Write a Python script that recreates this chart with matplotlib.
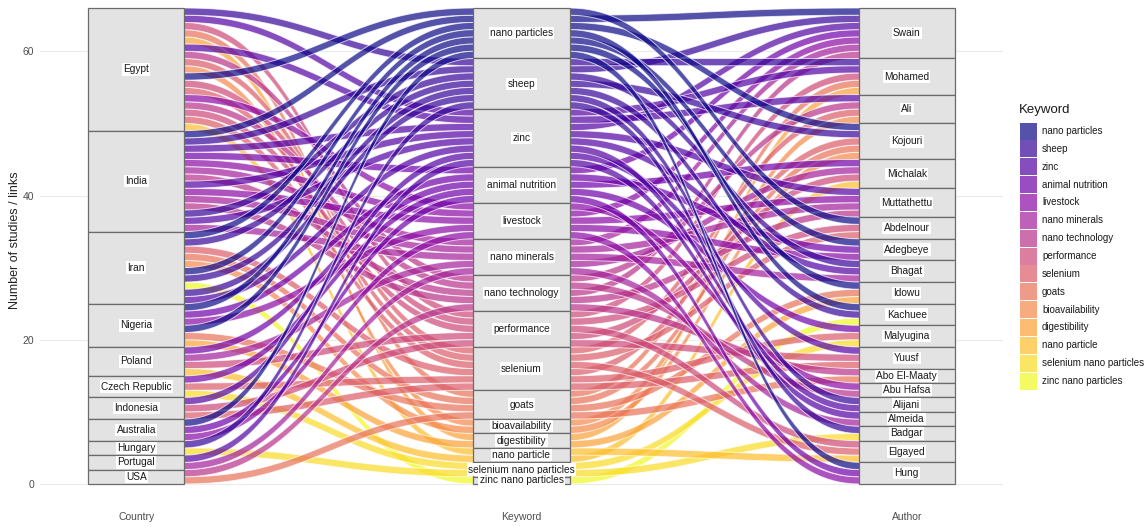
import numpy as np
import matplotlib
matplotlib.use("Agg")
import matplotlib.pyplot as plt
from matplotlib.patches import Rectangle, Polygon

# ---------------- data ----------------
countries = ["Egypt", "India", "Iran", "Nigeria", "Poland", "Czech Republic",
             "Indonesia", "Australia", "Hungary", "Portugal", "USA"]
keywords = ["nano particles", "sheep", "zinc", "animal nutrition", "livestock",
            "nano minerals", "nano technology", "performance", "selenium", "goats",
            "bioavailability", "digestibility", "nano particle",
            "selenium nano particles", "zinc nano particles"]
authors = ["Swain", "Mohamed", "Ali", "Kojouri", "Michalak", "Muttathettu",
           "Abdelnour", "Adegbeye", "Bhagat", "Idowu", "Kachuee", "Malyugina",
           "Yuusf", "Abo El-Maaty", "Abu Hafsa", "Alijani", "Almeida", "Badgar",
           "Elgayed", "Hung"]

author_country = ["India", "Egypt", "Egypt", "Iran", "Poland", "India",
                  "Egypt", "Nigeria", "India", "Nigeria", "Iran", "Czech Republic",
                  "Indonesia", "USA", "Egypt", "Iran", "Portugal", "Hungary",
                  "Egypt", "Australia"]
author_keywords = [
    ["nano particles", "sheep", "zinc", "animal nutrition", "livestock", "nano minerals", "nano technology"],
    ["sheep", "zinc", "goats", "digestibility", "performance"],
    ["zinc", "selenium", "bioavailability", "nano technology"],
    ["selenium", "goats", "bioavailability", "sheep", "nano particles"],
    ["animal nutrition", "nano minerals", "performance", "nano particle"],
    ["livestock", "nano minerals", "nano technology", "zinc"],
    ["performance", "selenium", "nano particles"],
    ["nano particles", "animal nutrition", "livestock"],
    ["zinc", "sheep", "nano minerals"],
    ["goats", "digestibility", "nano particles"],
    ["zinc nano particles", "nano particles", "sheep"],
    ["selenium", "selenium nano particles", "animal nutrition"],
    ["performance", "zinc", "selenium"],
    ["nano technology", "goats"],
    ["livestock", "nano technology"],
    ["sheep", "zinc"],
    ["nano minerals", "zinc"],
    ["selenium nano particles", "sheep"],
    ["nano particle", "performance", "selenium"],
    ["nano particles", "animal nutrition", "livestock"],
]

axis_names = ["Country", "Keyword", "Author"]

# ---------------- build links ----------------
rows = []
for a_i, a in enumerate(authors):
    c_i = countries.index(author_country[a_i])
    for kw in author_keywords[a_i]:
        rows.append((c_i, keywords.index(kw), a_i))
rows = np.array(rows)
N = len(rows)
total = N

strata_lists = [countries, keywords, authors]
order_keys = [(0, 2, 1), (1, 0, 2), (2, 1, 0)]

def stack_positions(axis):
    levels = strata_lists[axis]
    counts = np.array([np.sum(rows[:, axis] == i) for i in range(len(levels))])
    tops = total - np.concatenate([[0], np.cumsum(counts)[:-1]])
    keys = order_keys[axis]
    idx = sorted(range(N), key=lambda r: tuple(rows[r, k] for k in keys))
    ytop = np.zeros(N)
    fill = {}
    for r in idx:
        s = rows[r, axis]
        off = fill.get(s, 0)
        ytop[r] = tops[s] - off
        fill[s] = off + 1
    return counts, tops, ytop

stack = [stack_positions(a) for a in range(3)]

# ---------------- figure ----------------
W, H = 1147, 527
fig = plt.figure(figsize=(W / 100, H / 100), dpi=100)
ax = fig.add_axes([40 / W, (H - 500) / H, (1003 - 40) / W, 500 / H])
ax.set_xlim(0.75, 3.25)
ax.set_ylim(-16 / 7.2, 66 + 8 / 7.2)

for s in ax.spines.values():
    s.set_visible(False)
ax.set_yticks([0, 20, 40, 60])
ax.set_xticks([1, 2, 3])
ax.set_xticklabels(axis_names)
ax.tick_params(length=0, labelsize=7.5, labelcolor="#4d4d4d")
ax.tick_params(axis="x", pad=8.5)
ax.tick_params(axis="y", pad=4)
ax.grid(axis="y", color="#ebebeb", linewidth=0.8)
ax.set_axisbelow(True)
for t in ax.get_xticklabels() + ax.get_yticklabels():
    t.set_fontfamily("Liberation Sans")

fig.text(15 / W, 1 - 240 / H, "Number of studies / links", rotation=90,
         ha="center", va="center", fontsize=9, color="#222222",
         family="Liberation Sans")

cmap = matplotlib.colormaps["plasma"]
kcolors = [cmap(i / (len(keywords) - 1)) for i in range(len(keywords))]
alpha = 0.7
sw = 0.25  # stratum width

# ---------------- flows ----------------
t = np.linspace(0, 1, 60)
def bez(p0, p1, p2, p3):
    return ((1 - t) ** 3) * p0 + 3 * ((1 - t) ** 2) * t * p1 + 3 * (1 - t) * t ** 2 * p2 + t ** 3 * p3

draw_order = sorted(range(N), key=lambda r: -rows[r, 1])
for r in draw_order:
    color = kcolors[rows[r, 1]]
    xs_top, ys_top = [], []
    for a in range(2):
        x0 = 1 + a + sw / 2
        x1 = 2 + a - sw / 2
        dx = x1 - x0
        y0 = stack[a][2][r]
        y1 = stack[a + 1][2][r]
        xx = bez(x0, x0 + 0.45 * dx, x1 - 0.45 * dx, x1)
        yy = bez(y0, y0, y1, y1)
        xs_top.extend([1 + a - sw / 2] + list(xx) + [2 + a + sw / 2])
        ys_top.extend([y0] + list(yy) + [y1])
    xs_top = np.array(xs_top)
    ys_top = np.array(ys_top)
    xs = np.concatenate([xs_top, xs_top[::-1]])
    ys = np.concatenate([ys_top, ys_top[::-1] - 1])
    poly = Polygon(np.column_stack([xs, ys]), closed=True, facecolor=color,
                   alpha=alpha, edgecolor="white", linewidth=0.7, zorder=2)
    ax.add_patch(poly)

# ---------------- strata ----------------
for a in range(3):
    counts, tops, _ = stack[a]
    for s, name in enumerate(strata_lists[a]):
        top = tops[s]
        h = counts[s]
        ax.add_patch(Rectangle((1 + a - sw / 2, top - h), sw, h, facecolor="#e3e3e3",
                               edgecolor="#6b6b6b", linewidth=0.9, zorder=3))
        ax.text(1 + a, top - h / 2, name, ha="center", va="center", fontsize=7.3,
                color="#1a1a1a", family="Liberation Sans", zorder=4,
                bbox=dict(boxstyle="square,pad=0.12", fc="white", ec="none"))

# ---------------- legend (figure coords) ----------------
def fx(px):
    return px / W
def fy(py):
    return 1 - py / H

fig.text(fx(1019), fy(110), "Keyword", ha="left", va="center", fontsize=9.5,
         color="#1a1a1a", family="Liberation Sans")
row_h = 17.86
for i, (kw, c) in enumerate(zip(keywords, kcolors)):
    cy = 131 + i * row_h
    fig.patches.append(Rectangle((fx(1020), fy(cy + 8.5)), 17 / W, 17 / H,
                                 transform=fig.transFigure, facecolor=c,
                                 alpha=alpha, edgecolor="none"))
    fig.text(fx(1042), fy(cy), kw, ha="left", va="center", fontsize=7.0,
             color="#1a1a1a", family="Liberation Sans")

fig.savefig("out.png", dpi=100)
